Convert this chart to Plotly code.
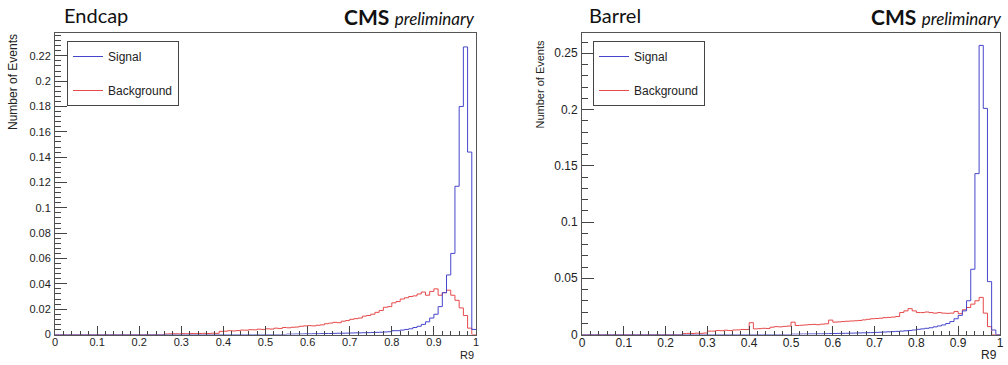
import plotly.graph_objects as go

# ---------------- data ----------------
bin_edges = [round(i * 0.01, 2) for i in range(101)]  # R9 bins, width 0.01

endcap_signal = [
    0, 0, 0, 0, 0, 0, 0, 0, 0, 0,
    0, 0, 0, 0, 0, 0, 0, 0, 0, 0,
    0, 0, 0, 0, 0, 0, 0, 0, 0, 0,
    0, 0, 0, 0, 0, 0, 0, 0, 0, 0,
    0, 0, 0, 0, 0, 0, 0, 0, 0, 0,
    0, 0, 0, 0, 0, 0.0003, 0.0003, 0.0004, 0.0004, 0.0005,
    0.0005, 0.0006, 0.0006, 0.0007, 0.0008, 0.0008, 0.0009, 0.001, 0.001, 0.0011,
    0.0012, 0.0013, 0.0013, 0.0014, 0.0015, 0.0016, 0.0017, 0.0018, 0.002, 0.0022,
    0.003, 0.003, 0.0035, 0.004, 0.0045, 0.0055, 0.0065, 0.008, 0.010, 0.013,
    0.016, 0.022, 0.033, 0.047, 0.064, 0.117, 0.180, 0.227, 0.144, 0.004,
]
endcap_background = [
    0, 0, 0, 0, 0, 0, 0, 0, 0, 0,
    0, 0, 0, 0, 0, 0, 0, 0, 0, 0,
    0, 0, 0, 0, 0, 0, 0.0004, 0.0005, 0.0006, 0.0005,
    0.0007, 0.0006, 0.0008, 0.0007, 0.0008, 0.0009, 0.0008, 0.001, 0.0009, 0.0025,
    0.0026, 0.003, 0.0028, 0.0031, 0.0035, 0.0034, 0.0038, 0.0037, 0.0042, 0.004,
    0.0045, 0.0043, 0.005, 0.0048, 0.0055, 0.0053, 0.0057, 0.0059, 0.0065, 0.0068,
    0.007, 0.0068, 0.0073, 0.0076, 0.0085, 0.009, 0.0096, 0.0093, 0.0105, 0.011,
    0.012, 0.0125, 0.013, 0.0145, 0.015, 0.016, 0.0175, 0.019, 0.0215, 0.022,
    0.025, 0.026, 0.028, 0.029, 0.030, 0.0305, 0.032, 0.0335, 0.031, 0.034,
    0.036, 0.031, 0.033, 0.035, 0.031, 0.027, 0.021, 0.015, 0.005, 0.0,
]
barrel_signal = [
    0, 0, 0, 0, 0, 0, 0, 0, 0, 0,
    0, 0, 0, 0, 0, 0, 0, 0, 0, 0,
    0, 0, 0, 0, 0, 0, 0, 0, 0, 0,
    0, 0, 0, 0, 0, 0, 0, 0, 0, 0,
    0, 0, 0, 0, 0, 0, 0, 0, 0, 0,
    0.0003, 0.0003, 0.0004, 0.0004, 0.0005, 0.0005, 0.0006, 0.0006, 0.0007, 0.0008,
    0.0009, 0.001, 0.001, 0.0011, 0.0012, 0.0013, 0.0014, 0.0015, 0.0016, 0.0017,
    0.0019, 0.002, 0.0022, 0.0024, 0.0026, 0.0028, 0.003, 0.0033, 0.0036, 0.004,
    0.0046, 0.005, 0.0055, 0.006, 0.0068, 0.0076, 0.0085, 0.0098, 0.0115, 0.014,
    0.017, 0.021, 0.030, 0.058, 0.143, 0.257, 0.201, 0.047, 0.004, 0.0,
]
barrel_background = [
    0, 0, 0, 0, 0, 0, 0, 0, 0, 0,
    0, 0, 0, 0, 0, 0, 0, 0, 0, 0,
    0, 0, 0, 0, 0.0008, 0.001, 0.0009, 0.0012, 0.001, 0.0013,
    0.003, 0.003, 0.0035, 0.0034, 0.0038, 0.0035, 0.004, 0.0041, 0.0045, 0.0044,
    0.0105, 0.005, 0.0052, 0.0055, 0.0054, 0.0065, 0.007, 0.0068, 0.0072, 0.0075,
    0.011, 0.008, 0.0082, 0.0085, 0.0088, 0.009, 0.0087, 0.0092, 0.0095, 0.0128,
    0.011, 0.0112, 0.0115, 0.0118, 0.012, 0.0122, 0.0125, 0.013, 0.0135, 0.014,
    0.0142, 0.0145, 0.015, 0.0152, 0.0155, 0.016, 0.0195, 0.021, 0.023, 0.021,
    0.0195, 0.0195, 0.02, 0.0195, 0.019, 0.0195, 0.019, 0.0188, 0.019, 0.0205,
    0.0185, 0.022, 0.024, 0.027, 0.030, 0.033, 0.019, 0.007, 0.0, 0.0,
]

x_tick_vals = [0, 0.1, 0.2, 0.3, 0.4, 0.5, 0.6, 0.7, 0.8, 0.9, 1.0]
x_tick_text = ["0", "0.1", "0.2", "0.3", "0.4", "0.5", "0.6", "0.7", "0.8", "0.9", "1"]
endcap_y_vals = [0, 0.02, 0.04, 0.06, 0.08, 0.1, 0.12, 0.14, 0.16, 0.18, 0.2, 0.22]
endcap_y_text = ["0", "0.02", "0.04", "0.06", "0.08", "0.1", "0.12", "0.14", "0.16", "0.18", "0.2", "0.22"]
barrel_y_vals = [0, 0.05, 0.1, 0.15, 0.2, 0.25]
barrel_y_text = ["0", "0.05", "0.1", "0.15", "0.2", "0.25"]

series_names = ["Signal", "Background"]
panel_titles = ["Endcap", "Barrel"]

# ---------------- styling ----------------
W, H = 1008, 365
SIG_COLOR = "#4646cc"
BKG_COLOR = "#e64a4a"
AXIS_COLOR = "#555555"
TEXT_COLOR = "#222222"
TICK_FONT = "Liberation Sans, Arial, sans-serif"
TITLE_FONT = "Lato, Open Sans, sans-serif"

def px_x(p):
    return p / W

def px_y(p):
    return (H - p) / H

def step(vals):
    return list(vals) + [vals[-1]]

fig = go.Figure()

panels = [
    dict(sig=endcap_signal, bkg=endcap_background, xa="x", ya="y", leg="legend"),
    dict(sig=barrel_signal, bkg=barrel_background, xa="x2", ya="y2", leg="legend2"),
]
for p in panels:
    fig.add_trace(go.Scatter(
        x=bin_edges, y=step(p["bkg"]), mode="lines", name=series_names[1],
        line=dict(shape="hv", color=BKG_COLOR, width=1),
        xaxis=p["xa"], yaxis=p["ya"], legend=p["leg"],
        legendgroup="bkg" + p["xa"], legendrank=2, hoverinfo="skip",
    ))
    fig.add_trace(go.Scatter(
        x=bin_edges, y=step(p["sig"]), mode="lines", name=series_names[0],
        line=dict(shape="hv", color=SIG_COLOR, width=1),
        xaxis=p["xa"], yaxis=p["ya"], legend=p["leg"],
        legendgroup="sig" + p["xa"], legendrank=1, hoverinfo="skip",
    ))

y_dom = [px_y(334.5), px_y(33)]

def xaxis_cfg(dom, anchor, fsize):
    return dict(
        domain=dom, anchor=anchor, range=[0, 1], automargin=False,
        tickmode="array", tickvals=x_tick_vals, ticktext=x_tick_text,
        ticks="inside", ticklen=9, tickwidth=1, tickcolor="#444",
        minor=dict(tickmode="linear", tick0=0, dtick=0.02, ticks="inside",
                   ticklen=4, tickcolor="#444", showgrid=False),
        showline=True, linecolor=AXIS_COLOR, linewidth=1, mirror=True,
        showgrid=False, zeroline=False,
        tickfont=dict(family=TICK_FONT, size=fsize, color=TEXT_COLOR),
        ticklabelstandoff=-3,
    )

def yaxis_cfg(anchor, rng, vals, text, minor_dt, fsize):
    return dict(
        domain=y_dom, anchor=anchor, range=rng, automargin=False,
        tickmode="array", tickvals=vals, ticktext=text,
        ticks="inside", ticklen=12, tickwidth=1, tickcolor="#444",
        minor=dict(tickmode="linear", tick0=0, dtick=minor_dt, ticks="inside",
                   ticklen=6, tickcolor="#444", showgrid=False),
        showline=True, linecolor=AXIS_COLOR, linewidth=1, mirror=True,
        showgrid=False, zeroline=False,
        tickfont=dict(family=TICK_FONT, size=fsize, color=TEXT_COLOR),
        ticklabelstandoff=1,
    )

legend_common = dict(
    xanchor="left", yanchor="top", bgcolor="white",
    bordercolor="#444", borderwidth=1,
    font=dict(family=TICK_FONT, size=12, color=TEXT_COLOR),
    traceorder="grouped", tracegroupgap=15, itemwidth=30,
)

fig.update_layout(
    width=W, height=H, margin=dict(l=0, r=0, t=0, b=0),
    paper_bgcolor="white", plot_bgcolor="white",
    xaxis=xaxis_cfg([px_x(55), px_x(476)], "y", 11),
    yaxis=yaxis_cfg("x", [0, 0.238], endcap_y_vals, endcap_y_text, 0.004, 11),
    xaxis2=xaxis_cfg([px_x(582), px_x(1000)], "y2", 12),
    yaxis2=yaxis_cfg("x2", [0, 0.268], barrel_y_vals, barrel_y_text, 0.01, 12),
    legend=dict(x=px_x(67), y=px_y(41), **legend_common),
    legend2=dict(x=px_x(593), y=px_y(41), **legend_common),
    showlegend=True,
)

annotations = [
    # panel titles
    dict(text=panel_titles[0], x=px_x(62), y=px_y(15), xanchor="left", yanchor="middle",
         font=dict(family=TITLE_FONT, size=20, color="#111")),
    dict(text=panel_titles[1], x=px_x(587), y=px_y(15), xanchor="left", yanchor="middle",
         font=dict(family=TITLE_FONT, size=20, color="#111")),
    # CMS preliminary
    dict(text="<b>CMS</b> <i><span style='font-size:17px'>preliminary</span></i>",
         x=px_x(477), y=px_y(16), xanchor="right", yanchor="middle",
         font=dict(family=TITLE_FONT, size=21, color="#111")),
    dict(text="<b>CMS</b> <i><span style='font-size:17px'>preliminary</span></i>",
         x=px_x(1004), y=px_y(16), xanchor="right", yanchor="middle",
         font=dict(family=TITLE_FONT, size=21, color="#111")),
    # y titles
    dict(text="Number of Events", textangle=-90, x=px_x(13), y=px_y(32),
         xanchor="center", yanchor="top",
         font=dict(family=TICK_FONT, size=12, color=TEXT_COLOR)),
    dict(text="Number of Events", textangle=-90, x=px_x(539), y=px_y(38),
         xanchor="center", yanchor="top",
         font=dict(family=TICK_FONT, size=11, color=TEXT_COLOR)),
    # x titles
    dict(text="R9", x=px_x(467), y=px_y(355), xanchor="center", yanchor="middle",
         font=dict(family=TICK_FONT, size=11, color=TEXT_COLOR)),
    dict(text="R9", x=px_x(989), y=px_y(355), xanchor="center", yanchor="middle",
         font=dict(family=TICK_FONT, size=12, color=TEXT_COLOR)),
]
for a in annotations:
    a.update(xref="paper", yref="paper", showarrow=False)
fig.update_layout(annotations=annotations)

fig.write_html(
    "out.html",
    config={"displayModeBar": False},
    post_script="document.body.style.margin='0';document.body.style.overflow='hidden';",
)
